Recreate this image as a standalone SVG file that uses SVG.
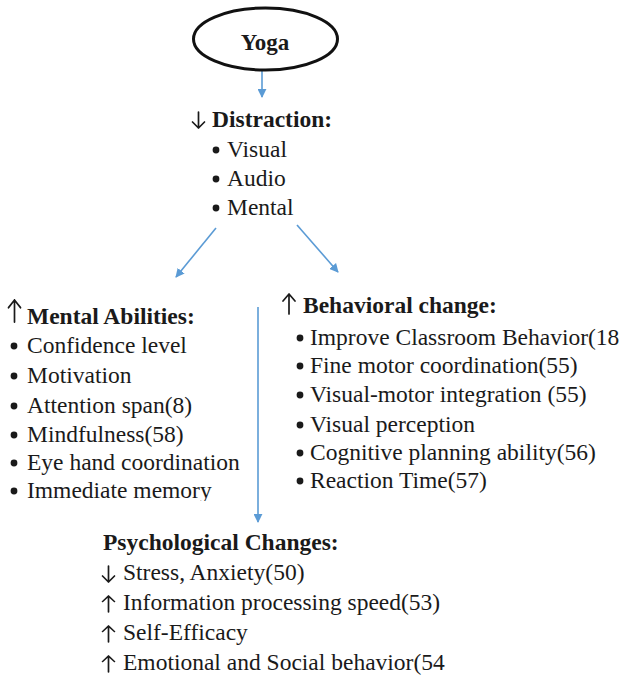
<svg xmlns="http://www.w3.org/2000/svg" width="629" height="689" viewBox="0 0 629 689">
<defs>
<style>
text{font-family:"Liberation Serif","Times New Roman",serif;font-size:23.5px;fill:#1a1a1a}
.b{font-weight:bold}
.c{stroke:#5b9bd5;stroke-width:1.6;fill:none}
.ar{stroke:#1a1a1a;stroke-width:1.7;fill:none;stroke-linecap:round;stroke-linejoin:round}
.bu{fill:#1a1a1a}
</style>
<marker id="ah2" viewBox="0 0 10 10" refX="9" refY="5" markerWidth="9" markerHeight="9" markerUnits="userSpaceOnUse" orient="auto">
<path d="M0,0 L10,5 L0,10 z" fill="#5b9bd5"/>
</marker>
<path id="up" class="ar" d="M0,0 V-20 M-6,-13 L0,-20 L6,-13"/>
<path id="down" class="ar" d="M0,-16 V0 M-6,-6 L0,0 L6,-6"/>
<clipPath id="clipMem"><rect x="0" y="470" width="260" height="31"/></clipPath>
<clipPath id="clipEmo"><rect x="100" y="645" width="346" height="40"/></clipPath>
</defs>
<rect width="629" height="689" fill="#ffffff"/>

<g id="connectors">
<line class="c" x1="262" y1="71" x2="262" y2="97" marker-end="url(#ah2)"/>
<line class="c" x1="216" y1="228" x2="176" y2="277" marker-end="url(#ah2)"/>
<line class="c" x1="297" y1="225" x2="338" y2="272" marker-end="url(#ah2)"/>
<line class="c" x1="258" y1="307" x2="258" y2="522" marker-end="url(#ah2)"/>
</g>

<g id="yoga">
<ellipse cx="265.5" cy="39" rx="72" ry="31" fill="none" stroke="#111" stroke-width="3"/>
<text class="b" x="265" y="50" text-anchor="middle" style="font-size:23px">Yoga</text>
</g>

<g id="distraction">
<use href="#down" x="198.5" y="128"/>
<text class="b" x="212" y="127">Distraction:</text>
<circle class="bu" cx="216" cy="150" r="3.4"/><text x="227" y="157">Visual</text>
<circle class="bu" cx="216" cy="179" r="3.4"/><text x="227" y="186">Audio</text>
<circle class="bu" cx="216" cy="208" r="3.4"/><text x="227" y="215">Mental</text>
</g>

<g id="mental">
<use href="#up" transform="translate(14.5,322) scale(1,1.1)"/>
<text class="b" x="27" y="324">Mental Abilities:</text>
<circle class="bu" cx="14" cy="346" r="3.4"/><text x="27" y="353">Confidence level</text>
<circle class="bu" cx="14" cy="376" r="3.4"/><text x="27" y="383">Motivation</text>
<circle class="bu" cx="14" cy="406" r="3.4"/><text x="27" y="413">Attention span(8)</text>
<circle class="bu" cx="14" cy="435" r="3.4"/><text x="27" y="442">Mindfulness(58)</text>
<circle class="bu" cx="14" cy="463" r="3.4"/><text x="27" y="470">Eye hand coordination</text>
<g clip-path="url(#clipMem)">
<circle class="bu" cx="14" cy="491" r="3.4"/><text x="27" y="498">Immediate memory</text>
</g>
</g>

<g id="behavioral">
<use href="#up" x="289" y="314"/>
<text class="b" x="303" y="313">Behavioral change:</text>
<circle class="bu" cx="300" cy="338" r="3.4"/><text x="310" y="345">Improve Classroom Behavior(18</text>
<circle class="bu" cx="300" cy="366" r="3.4"/><text x="310" y="373">Fine motor coordination(55)</text>
<circle class="bu" cx="300" cy="395" r="3.4"/><text x="310" y="402">Visual-motor integration (55)</text>
<circle class="bu" cx="300" cy="425" r="3.4"/><text x="310" y="432">Visual perception</text>
<circle class="bu" cx="300" cy="453" r="3.4"/><text x="310" y="460">Cognitive planning ability(56)</text>
<circle class="bu" cx="300" cy="481" r="3.4"/><text x="310" y="488">Reaction Time(57)</text>
</g>

<g id="psychological">
<text class="b" x="103" y="550">Psychological Changes:</text>
<use href="#down" x="108.5" y="582"/><text x="123" y="580">Stress, Anxiety(50)</text>
<use href="#up" transform="translate(108.5,612) scale(1,0.8)"/><text x="123" y="610">Information processing speed(53)</text>
<use href="#up" transform="translate(108.5,642) scale(1,0.8)"/><text x="123" y="640">Self-Efficacy</text>
<g clip-path="url(#clipEmo)">
<use href="#up" transform="translate(108.5,672) scale(1,0.8)"/><text x="123" y="670">Emotional and Social behavior(54</text>
</g>
</g>
</svg>
